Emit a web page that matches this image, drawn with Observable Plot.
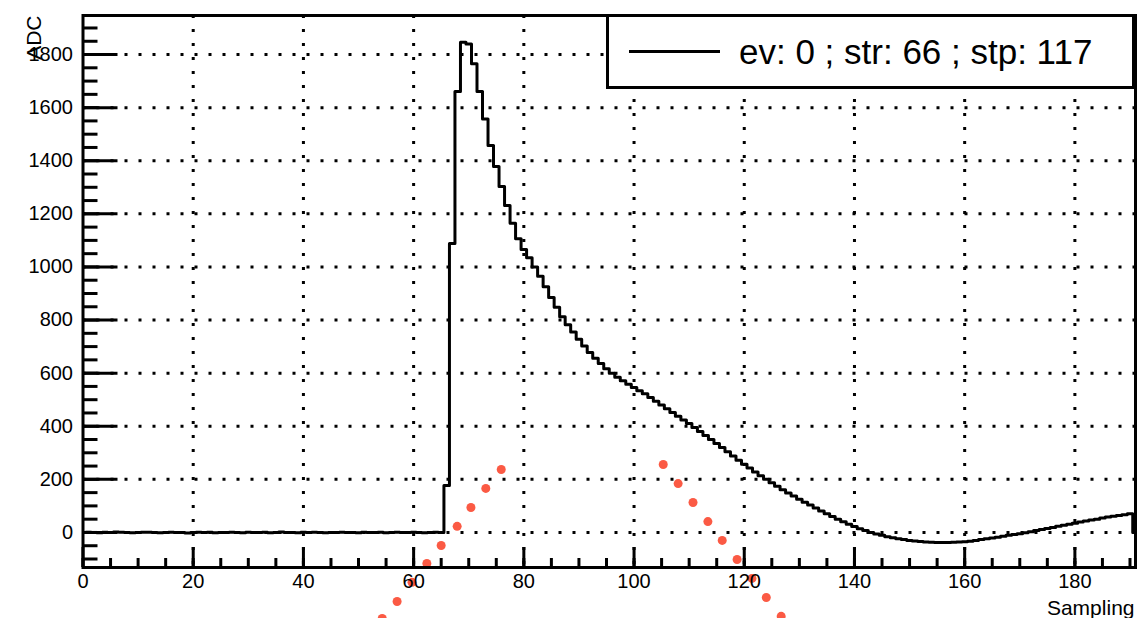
<!DOCTYPE html>
<html>
<head>
<meta charset="utf-8">
<script src="https://cdn.jsdelivr.net/npm/d3@7"></script>
<script src="https://cdn.jsdelivr.net/npm/@observablehq/plot@0.6"></script>
<style>
  html, body { margin: 0; padding: 0; background: #fff; }
  #chart svg { display: block; }
</style>
</head>
<body>
<div id="chart"></div>
<script>
// ADC value of each sampling bin (bin k covers k-0.5 .. k+0.5)
const adc = [
  0, 1, 0, -1, 1, 0, 2, 1, 0, -1,
  0, 1, 1, 0, -1, 0, 1, 0, 0, -2,
  0, 1, 0, 1, -1, 0, 0, 1, 0, -1,
  1, 0, 0, 1, -1, 0, 2, 0, 0, -1,
  1, 0, 1, 0, -1, 0, 0, 1, 0, 0,
  -1, 1, 0, 0, 1, -1, 0, 1, 0, 0,
  1, 0, -1, 0, 1, 0, 177, 1088, 1661, 1846,
  1840, 1765, 1661, 1557, 1457, 1378, 1303, 1231, 1165, 1106,
  1066, 1035, 1000, 965, 925, 885, 848, 812, 782, 755,
  728, 702, 678, 656, 636, 617, 600, 585, 571, 558,
  546, 534, 522, 508, 494, 480, 466, 452, 438, 424,
  410, 395, 380, 365, 350, 335, 320, 304, 288, 272,
  257, 243, 228, 214, 200, 187, 174, 161, 149, 137,
  125, 114, 103, 92, 81, 70, 60, 50, 40, 31,
  22, 14, 7, 0, -6, -11, -16, -20, -24, -27,
  -30, -32, -34, -36, -37, -38, -38, -38, -37, -36,
  -35, -33, -30, -27, -24, -21, -18, -14, -11, -8,
  -5, -1, 3, 7, 11, 15, 19, 23, 27, 31,
  35, 39, 43, 47, 50, 54, 58, 61, 64, 67, 70
];

// red markers
const redLeftX  = [54.3, 57.0, 59.7, 62.4, 65.0, 67.9, 70.4, 73.1, 75.9];
const redLeftY  = [-324, -260, -188, -117, -49, 23, 94, 166, 237];
const redRightX = [105.3, 108.0, 110.7, 113.4, 116.0, 118.7, 121.4, 124.0, 126.7];
const redRightY = [256, 184, 113, 41, -30, -102, -173, -245, -316];

// axis ticks
const xMajor = [0, 20, 40, 60, 80, 100, 120, 140, 160, 180];
const xMinor = d3.range(0, 191, 5);
const yMajor = [0, 200, 400, 600, 800, 1000, 1200, 1400, 1600, 1800];
const yMinor = d3.range(-100, 1947, 50);
const xDomain = [0, 191];
const yDomain = [-132, 1947];

const legendLabel = "ev: 0 ; str: 66 ; stp: 117";
const xTitle = "Sampling";
const yTitle = "ADC";

// build step outline from bins
const outline = adc.map((v, k) => ({x: k - 0.5, y: v}));
outline.push({x: adc.length - 0.5, y: adc[adc.length - 1]});
outline.push({x: adc.length - 0.5, y: 0});

const red = [
  ...redLeftX.map((x, i) => ({x, y: redLeftY[i]})),
  ...redRightX.map((x, i) => ({x, y: redRightY[i]}))
];

const W = 1140, H = 618;
const mL = 82.5, mR = 5, mT = 15, mB = 51;
const pw = W - mL - mR, ph = H - mT - mB;
const FONT = "'Liberation Sans', Arial, Helvetica, sans-serif";

const chart = Plot.plot({
  width: W, height: H,
  marginLeft: mL, marginRight: mR, marginTop: mT, marginBottom: mB,
  style: {fontFamily: FONT, fontSize: "20px", color: "black", background: "white", overflow: "visible"},
  x: {domain: xDomain},
  y: {domain: yDomain},
  marks: [
    Plot.ruleX(xMajor.filter(d => d > 0), {x: d => d, stroke: "black", strokeWidth: 3, strokeDasharray: "3,11"}),
    Plot.ruleY(yMajor, {y: d => d, stroke: "black", strokeWidth: 3, strokeDasharray: "3,11"}),
    Plot.tickY(yMinor, {y: d => d, stroke: "black", strokeWidth: 3, insetRight: pw - 15}),
    Plot.tickY(yMajor, {y: d => d, stroke: "black", strokeWidth: 3, insetRight: pw - 35}),
    Plot.tickX(xMinor, {x: d => d, stroke: "black", strokeWidth: 3, insetTop: ph - 9}),
    Plot.tickX(xMajor, {x: d => d, stroke: "black", strokeWidth: 3, insetTop: ph - 20}),
    Plot.line(outline, {x: "x", y: "y", curve: "step-after", stroke: "black", strokeWidth: 3, clip: true}),
    Plot.dot(red, {x: "x", y: "y", r: 4.5, fill: "#fb5a44", stroke: null}),
    Plot.axisX({ticks: xMajor, tickSize: 0, tickPadding: 6, label: null, fontSize: 20, tickFormat: d => String(d)}),
    Plot.axisY({ticks: yMajor, tickSize: 0, tickPadding: 10, label: null, fontSize: 20, tickFormat: d => String(d)}),
    Plot.text([xTitle], {frameAnchor: "bottom-right", text: d => d, textAnchor: "end", lineAnchor: "bottom", dy: 47, dx: -1, fontSize: 21}),
    Plot.text([yTitle], {frameAnchor: "top-left", text: d => d, rotate: -90, textAnchor: "end", dx: -57, dy: 0, fontSize: 21}),
    Plot.frame({stroke: "black", strokeWidth: 3})
  ]
});

document.getElementById("chart").appendChild(chart);

// legend box
const svg = d3.select(chart);
const g = svg.append("g").attr("class", "legend");
g.append("rect")
  .attr("x", 607.5).attr("y", 15.5).attr("width", 526).attr("height", 72)
  .attr("fill", "white").attr("stroke", "black").attr("stroke-width", 3);
g.append("line")
  .attr("x1", 629).attr("x2", 720).attr("y1", 51.5).attr("y2", 51.5)
  .attr("stroke", "black").attr("stroke-width", 3);
g.append("text")
  .attr("x", 739).attr("y", 64)
  .attr("text-anchor", "start")
  .attr("font-size", 35)
  .attr("font-family", FONT)
  .attr("fill", "black")
  .text(legendLabel);
</script>
</body>
</html>
